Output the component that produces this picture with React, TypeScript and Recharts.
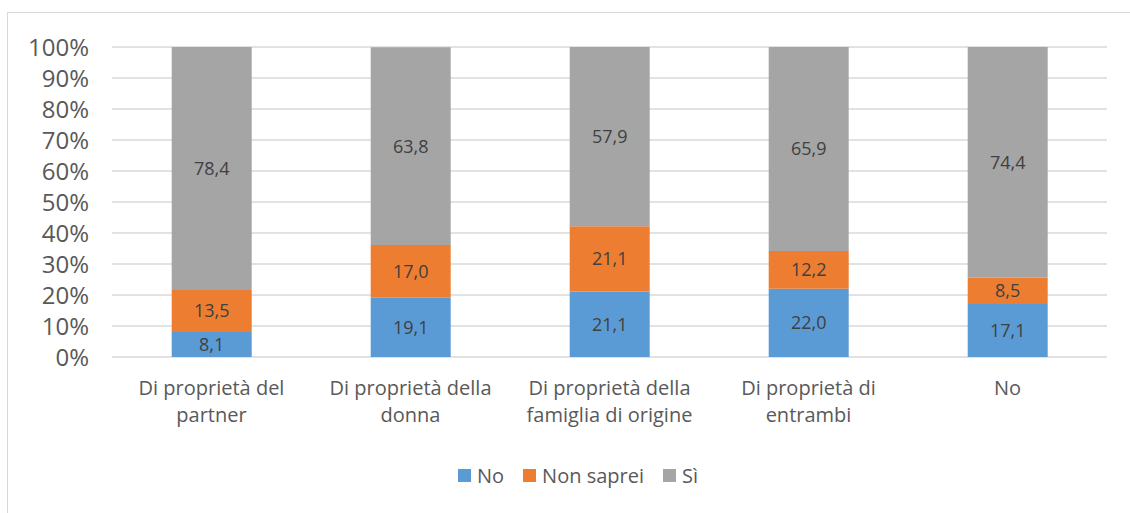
import React from 'react';
import { BarChart, Bar, XAxis, YAxis, CartesianGrid, LabelList } from 'recharts';

const categories = [
  'Di proprietà del\npartner',
  'Di proprietà della\ndonna',
  'Di proprietà della\nfamiglia di origine',
  'Di proprietà di\nentrambi',
  'No',
];
const noValues = [8.1, 19.1, 21.1, 22.0, 17.1];
const nonSapreiValues = [13.5, 17.0, 21.1, 12.2, 8.5];
const siValues = [78.4, 63.8, 57.9, 65.9, 74.4];
const yTicks = [0, 10, 20, 30, 40, 50, 60, 70, 80, 90, 100];

const seriesNames = ['No', 'Non saprei', 'Sì'];
const colors = ['#5B9BD5', '#ED7D31', '#A5A5A5'];

const data = categories.map((c, i) => ({
  name: c,
  no: noValues[i],
  nonSaprei: nonSapreiValues[i],
  si: siValues[i],
}));

const FONT = '"Open Sans", sans-serif';

const fmt = (v: any) => Number(v).toFixed(1).replace('.', ',');

const CategoryTick = (props: any) => {
  const { x, y, payload } = props;
  const lines = String(payload.value).split('\n');
  return (
    <g transform={`translate(${x},${y})`}>
      {lines.map((l, i) => (
        <text
          key={i}
          x={0}
          y={22 + i * 27}
          textAnchor="middle"
          dominantBaseline="central"
          fill="#595959"
          fontSize={20}
          fontFamily={FONT}
        >
          {l}
        </text>
      ))}
    </g>
  );
};

const LegendBox = () => (
  <div
    style={{
      position: 'absolute',
      left: 450,
      top: 449,
      display: 'flex',
      alignItems: 'center',
      fontFamily: FONT,
      fontSize: 20,
      color: '#595959',
    }}
  >
    {seriesNames.map((n, i) => (
      <div key={n} style={{ display: 'flex', alignItems: 'center', marginRight: 19 }}>
        <div style={{ width: 13, height: 13, background: colors[i], marginRight: 6 }} />
        <span>{n}</span>
      </div>
    ))}
  </div>
);

export default function App() {
  return (
    <div
      style={{
        position: 'absolute',
        left: 7,
        top: 12,
        width: 1140,
        height: 520,
        border: '1px solid #D9D9D9',
        background: '#fff',
      }}
    >
      <BarChart
        width={1122}
        height={500}
        data={data}
        margin={{ top: 34, right: 23, left: 0, bottom: 76 }}
        barCategoryGap="30%"
      >
        <CartesianGrid vertical={false} stroke="#D9D9D9" strokeWidth={1.5} />
        <XAxis
          dataKey="name"
          axisLine={false}
          tickLine={false}
          tick={<CategoryTick />}
          interval={0}
          height={80}
        />
        <YAxis
          width={104}
          domain={[0, 100]}
          ticks={yTicks}
          interval={0}
          allowDataOverflow
          axisLine={false}
          tickLine={false}
          tickMargin={17}
          tickFormatter={(v: number) => `${v}%`}
          tick={{ fill: '#595959', fontSize: 24, fontFamily: FONT }}
        />
        <Bar dataKey="no" stackId="a" fill={colors[0]} isAnimationActive={false}>
          <LabelList dataKey="no" position="center" formatter={fmt} fill="#404040" fontSize={18} fontFamily={FONT} />
        </Bar>
        <Bar dataKey="nonSaprei" stackId="a" fill={colors[1]} isAnimationActive={false}>
          <LabelList dataKey="nonSaprei" position="center" formatter={fmt} fill="#404040" fontSize={18} fontFamily={FONT} />
        </Bar>
        <Bar dataKey="si" stackId="a" fill={colors[2]} isAnimationActive={false}>
          <LabelList dataKey="si" position="center" formatter={fmt} fill="#404040" fontSize={18} fontFamily={FONT} />
        </Bar>
      </BarChart>
      <LegendBox />
    </div>
  );
}
